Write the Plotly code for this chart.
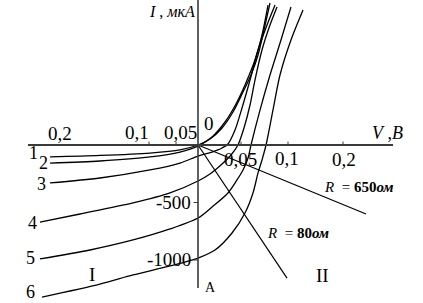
import plotly.graph_objects as go

# ---- data (schematic V-axis units, current in µA) ----
c1_x = [-0.1644, -0.1089, -0.0533, -0.02, 0, 0.0133, 0.0267, 0.0389, 0.05, 0.0589, 0.0667, 0.0733, 0.08]
c1_y = [-104, -91, -70, -43, 0, 52, 148, 287, 461, 609, 783, 1000, 1235]

c2_x = [-0.1644, -0.1089, -0.0533, -0.02, 0, 0.0156, 0.03, 0.0422, 0.0522, 0.0633, 0.0711, 0.0778]
c2_y = [-157, -139, -104, -61, -9, 70, 200, 357, 522, 739, 957, 1217]

c3_x = [-0.1644, -0.1089, -0.0533, -0.02, 0, 0.0156, 0.0267, 0.0333, 0.0411, 0.0489, 0.0578, 0.0667, 0.0767, 0.0856]
c3_y = [-330, -287, -217, -157, -96, -61, -26, 9, 130, 322, 565, 826, 1043, 1217]

c4_x = [-0.1756, -0.1311, -0.0722, -0.0311, 0, 0.0133, 0.0267, 0.0367, 0.0444, 0.0511, 0.0578, 0.0633, 0.0711, 0.08, 0.0878]
c4_y = [-670, -600, -504, -417, -313, -252, -165, -87, 0, 148, 348, 565, 826, 1043, 1200]

c5_x = [-0.1756, -0.12, -0.0722, -0.0311, 0, 0.0156, 0.0333, 0.0433, 0.05, 0.0556, 0.0589, 0.0689, 0.08, 0.0922, 0.1033]
c5_y = [-991, -913, -826, -730, -635, -539, -417, -304, -217, -113, 0, 304, 609, 913, 1200]

c6_x = [-0.1733, -0.1089, -0.0722, -0.0311, 0, 0.0189, 0.0378, 0.0522, 0.0611, 0.0667, 0.0711, 0.0756, 0.0833, 0.0911, 0.1033, 0.1167]
c6_y = [-1322, -1209, -1130, -1052, -983, -913, -765, -591, -417, -243, -130, 0, 304, 609, 913, 1174]

curve_names = ["1", "2", "3", "4", "5", "6"]
curve_label_x = [-0.1833, -0.1722, -0.1744, -0.1844, -0.1856, -0.1856]
curve_label_y = [-70, -155, -335, -678, -983, -1275]

# load lines (through origin)
r650_x = [0, 0.1867]
r650_y = [0, -600]
r80_x = [0, 0.0989]
r80_y = [0, -1157]

# axes extents
v_axis_x = [-0.1889, 0.2167]
i_axis_y = [1261, -1243]

# tick marks / labels
xtick_vals = [-0.0544, -0.0244, 0.0478, 0.1, 0.1611]
ytick_vals = [-500, -1000]
ytick_text = ["-500", "-1000"]

fig = go.Figure()
line_style = dict(color="black", width=1.3, shape="spline", smoothing=0.8)
for xs, ys in [(c1_x, c1_y), (c2_x, c2_y), (c3_x, c3_y), (c4_x, c4_y), (c5_x, c5_y), (c6_x, c6_y)]:
    fig.add_trace(go.Scatter(x=xs, y=ys, mode="lines", line=line_style, hoverinfo="skip"))

for xs, ys in [(r650_x, r650_y), (r80_x, r80_y)]:
    fig.add_trace(go.Scatter(x=xs, y=ys, mode="lines", line=dict(color="black", width=1.2), hoverinfo="skip"))

axis_col = "#3a3a3a"
fig.add_trace(go.Scatter(x=v_axis_x, y=[0, 0], mode="lines", line=dict(color=axis_col, width=2), hoverinfo="skip"))
fig.add_trace(go.Scatter(x=[0, 0], y=i_axis_y, mode="lines", line=dict(color=axis_col, width=1.6), hoverinfo="skip"))

# tick marks
tx, ty = [], []
for v in xtick_vals:
    tx += [v, v, None]
    ty += [0, 30, None]
for v in ytick_vals:
    tx += [-0.005, 0, None]
    ty += [v, v, None]
fig.add_trace(go.Scatter(x=tx, y=ty, mode="lines", line=dict(color=axis_col, width=1), hoverinfo="skip"))

serif = "Liberation Serif, Times New Roman, serif"
ann = []
def txt(x, y, t, size=19, xanchor="center", **kw):
    ann.append(dict(x=x, y=y, text=t, showarrow=False, xanchor=xanchor, yanchor="middle",
                    font=dict(family=serif, size=size, color="black"), **kw))

# x tick labels
txt(-0.1533, 104, "0,2")
txt(-0.0678, 113, "0,1")
txt(-0.02, 113, "0,05")
txt(0.0122, 191, "0")
txt(0.0467, -130, "0,05")
txt(0.0989, -113, "0,1")
txt(0.1622, -130, "0,2")
# y tick labels
for v, t in zip(ytick_vals, ytick_text):
    txt(-0.0056, v, t, xanchor="right")
# axis titles
txt(0.2106, 104, "<i>V</i> ,<i>В</i>", size=18)
txt(-0.0289, 1157, "<i>I</i> , <i>мкА</i>", size=16)
# curve numbers
for n, x, y in zip(curve_names, curve_label_x, curve_label_y):
    txt(x, y, n, size=18)
# region labels
txt(-0.1178, -1130, "I", size=19)
txt(0.1378, -1139, "II", size=19)
txt(0.0144, -1243, "A", size=14)
# load line labels
txt(0.1794, -365, "<i>R</i> &nbsp;= <b>650<i>ом</i></b>", size=15)
txt(0.1106, -765, "<i>R</i> &nbsp;= <b>80<i>ом</i></b>", size=15)

fig.update_layout(
    width=423, height=303, autosize=False,
    margin=dict(l=0, r=0, t=0, b=0),
    paper_bgcolor="white", plot_bgcolor="white",
    showlegend=False,
    xaxis=dict(range=[-0.22, 0.25], visible=False),
    yaxis=dict(range=[-1374, 1261], visible=False),
    annotations=ann,
)
fig.write_html("out.html")
